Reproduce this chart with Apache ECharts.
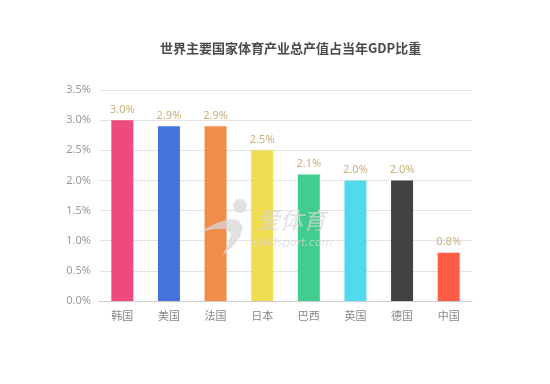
<!DOCTYPE html>
<html><head><meta charset="utf-8">
<script src="https://cdn.jsdelivr.net/npm/echarts@6/dist/echarts.min.js"></script>
<style>html,body{margin:0;padding:0;background:#fff}#c{width:550px;height:384px}</style>
</head><body><div id="c"></div>
<script>
var categories = ['韩国','美国','法国','日本','巴西','英国','德国','中国'];
var values = [3.0, 2.9, 2.9, 2.5, 2.1, 2.0, 2.0, 0.8];
var colors = ['#ef4a7c','#4373dd','#f28c4b','#f1dd52','#41cd8d','#52d9ee','#424242','#ff5b47'];
var yTicks = [0, 0.5, 1.0, 1.5, 2.0, 2.5, 3.0, 3.5];

var chart = echarts.init(document.getElementById('c'));
chart.setOption({
  animation: false,
  title: {
    text: '世界主要国家体育产业总产值占当年GDP比重',
    left: 155, top: 37,
    textStyle: {fontSize: 13, fontWeight: 'bold', color: '#4a4a4a', fontFamily: 'Noto Sans CJK SC'}
  },
  grid: {left: 99, right: 78, top: 90, bottom: 83},
  xAxis: {
    type: 'category', data: categories,
    axisLine: {lineStyle: {color: '#ccc'}},
    axisTick: {show: false},
    axisLabel: {color: '#888', fontSize: 11, margin: 9, fontFamily: 'Noto Sans CJK SC'}
  },
  yAxis: {
    type: 'value', min: yTicks[0], max: yTicks[yTicks.length-1], interval: 0.5,
    axisLine: {show: false}, axisTick: {show: false},
    splitLine: {lineStyle: {color: '#e3e3e3'}},
    axisLabel: {color: '#999', fontSize: 11, margin: 8, fontFamily: 'Noto Sans',
      formatter: function(v){ return v.toFixed(1) + '%'; }}
  },
  series: [{
    type: 'bar', barWidth: 22,
    data: values.map(function(v, i){ return {value: v, itemStyle: {color: colors[i]}}; }),
    label: {show: true, position: 'top', color: '#c9b07a', fontSize: 11, fontFamily: 'Noto Sans',
      formatter: function(p){ return p.value.toFixed(1) + '%'; }}
  }],
  graphic: [
    {type: 'circle', z: 100, shape: {cx: 240, cy: 206, r: 7}, style: {fill: 'rgba(215,215,215,0.75)'}},
    {type: 'polygon', z: 100, shape: {points: [[200,232],[214,224],[228,219],[238,220],[243,227],[240,237],[232,247],[222,256],[228,244],[231,234],[226,229],[214,229]]}, style: {fill: 'rgba(215,215,215,0.75)'}},
    {type: 'text', z: 100, left: 257, top: 209, style: {text: '爱体育', fontSize: 23, fontStyle: 'italic', fill: 'rgba(215,215,215,0.75)', fontFamily: 'Noto Sans CJK SC'}},
    {type: 'text', z: 100, left: 253, top: 238, style: {text: 'i360sport.com', fontSize: 11, fontStyle: 'italic', fill: 'rgba(215,215,215,0.75)', fontFamily: 'DejaVu Sans'}}
  ]
});
</script></body></html>
